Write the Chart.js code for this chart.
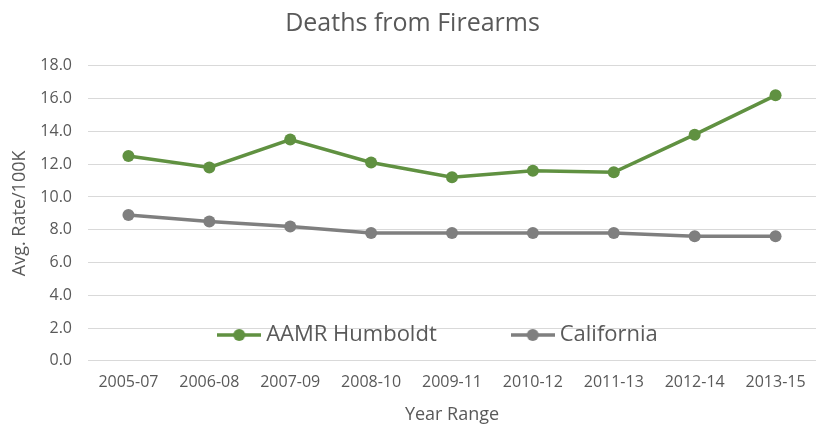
<!DOCTYPE html>
<html>
<head>
<meta charset="utf-8">
<script src="https://cdn.jsdelivr.net/npm/chart.js@4.4.1/dist/chart.umd.min.js"></script>
<style>
  html, body { margin: 0; padding: 0; background: #fff; }
  #wrap { width: 822px; height: 428px; }
</style>
</head>
<body>
<div id="wrap"><canvas id="firearmsChart"></canvas></div>
<script>
const yearRanges = ["2005-07", "2006-08", "2007-09", "2008-10", "2009-11", "2010-12", "2011-13", "2012-14", "2013-15"];
const humboldtRates = [12.5, 11.8, 13.5, 12.1, 11.2, 11.6, 11.5, 13.8, 16.2];
const californiaRates = [8.9, 8.5, 8.2, 7.8, 7.8, 7.8, 7.8, 7.6, 7.6];
const yMax = 18;
const yStep = 2;

const GREEN = "#609141";
const GRAY = "#7f7f7f";
const TEXT = "#595959";

// little line-with-dot image for the legend, like Excel's line markers
function legendMarker(color) {
    const c = document.createElement("canvas");
    c.width = 44;
    c.height = 14;
    const g = c.getContext("2d");
    g.strokeStyle = color;
    g.lineWidth = 3.5;
    g.beginPath();
    g.moveTo(0, 7);
    g.lineTo(44, 7);
    g.stroke();
    g.fillStyle = color;
    g.beginPath();
    g.arc(22, 7, 6, 0, Math.PI * 2);
    g.fill();
    return c;
}

// move the legend into the plot area, just above the 0 line
const legendInside = {
    id: "legendInside",
    afterLayout(chart) {
        const lg = chart.legend;
        const area = chart.chartArea;
        const pad = lg.options.labels.padding;
        const fs = lg.options.labels.font.size;
        lg.left = 65;
        lg.right = area.right;
        lg.width = lg.right - lg.left;
        lg.top = 335 - fs / 2 - pad;
        lg.height = fs + pad * 2;
        lg.bottom = lg.top + lg.height;
    }
};

const ctx = document.getElementById("firearmsChart").getContext("2d");

const firearmsChart = new Chart(ctx, {
    type: "line",
    data: {
        labels: yearRanges,
        datasets: [
            {
                label: "AAMR Humboldt",
                data: humboldtRates,
                borderColor: GREEN,
                backgroundColor: GREEN,
                borderWidth: 3.5,
                pointRadius: 6,
                pointHoverRadius: 6,
                pointBorderWidth: 0,
                pointStyle: "circle",
                tension: 0,
            },
            {
                label: "California",
                data: californiaRates,
                borderColor: GRAY,
                backgroundColor: GRAY,
                borderWidth: 3.5,
                pointRadius: 6,
                pointHoverRadius: 6,
                pointBorderWidth: 0,
                pointStyle: "circle",
                tension: 0,
            },
        ],
    },
    options: {
        responsive: true,
        maintainAspectRatio: false,
        animation: false,
        layout: { padding: { left: 0, right: -3, top: 0, bottom: 0 } },
        scales: {
            x: {
                offset: true,
                grid: { display: false, drawTicks: false },
                border: { display: false },
                ticks: { color: TEXT, font: { family: "Open Sans", size: 16 }, padding: 12, maxRotation: 0 },
                title: {
                    display: true,
                    text: "Year Range",
                    color: TEXT,
                    font: { family: "Open Sans", size: 18 },
                    padding: { top: 0, bottom: 1.3 },
                },
            },
            y: {
                min: 0,
                max: yMax,
                afterFit(scale) { scale.width = 88; },
                grid: { color: "#d9d9d9", lineWidth: 1, drawTicks: false },
                border: { display: false },
                ticks: {
                    stepSize: yStep,
                    color: TEXT,
                    font: { family: "Open Sans", size: 16 },
                    padding: 16,
                    callback: (v) => v.toFixed(1),
                },
                title: {
                    display: true,
                    text: "Avg. Rate/100K",
                    color: TEXT,
                    font: { family: "Open Sans", size: 18 },
                    padding: { top: 9, bottom: 4 },
                },
            },
        },
        plugins: {
            title: {
                display: true,
                text: "Deaths from Firearms",
                color: TEXT,
                font: { family: "Open Sans", size: 25, weight: "normal" },
                padding: { top: 8.5, bottom: 27.3 },
            },
            legend: {
                position: "bottom",
                maxHeight: 1,
                labels: {
                    usePointStyle: true,
                    pointStyleWidth: 32,
                    padding: 80,
                    color: TEXT,
                    font: { family: "Open Sans", size: 22 },
                    generateLabels(chart) {
                        return chart.data.datasets.map((ds, i) => ({
                            text: ds.label,
                            fontColor: TEXT,
                            pointStyle: legendMarker(ds.borderColor),
                            hidden: false,
                            lineWidth: 0,
                            strokeStyle: ds.borderColor,
                            fillStyle: ds.borderColor,
                            datasetIndex: i,
                        }));
                    },
                },
            },
            tooltip: { enabled: false },
        },
    },
    plugins: [legendInside],
});
</script>
</body>
</html>
